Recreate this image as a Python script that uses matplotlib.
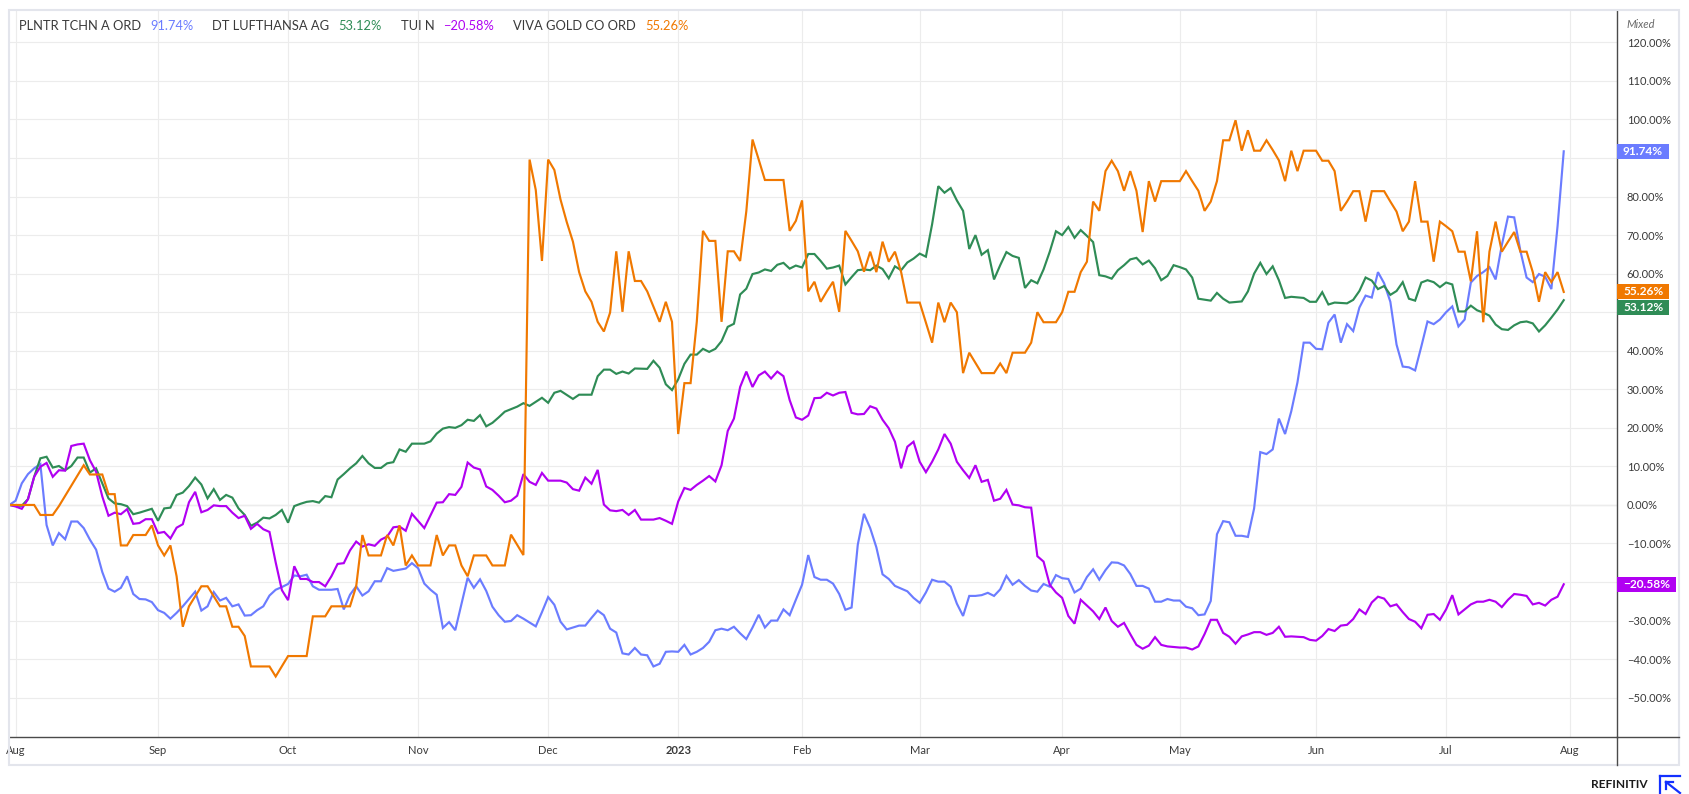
import numpy as np
import pandas as pd
import matplotlib
matplotlib.use("Agg")
import matplotlib.pyplot as plt
from matplotlib.lines import Line2D
from matplotlib.patches import Rectangle
from matplotlib.transforms import blended_transform_factory

plt.rcParams['font.family'] = ['Lato', 'DejaVu Sans']

# ------------------------------------------------------------
# Data : % change since 29 Jul 2022, by trading session
# (session 0 = 1 Aug 2022, -1 = previous close)
# ------------------------------------------------------------
names = ["PLNTR TCHN A ORD", "DT LUFTHANSA AG", "TUI N", "VIVA GOLD CO ORD"]
colors = ["#6b7cff", "#2f8c56", "#b100f2", "#f07800"]

pltr = [(-1, 0), (0, 1.1), (1, 5.6), (2, 8.0), (3, 9.5), (4, 10.6), (5, -5.2), (6, -10.5), (7, -7.3),
        (8, -8.9), (9, -4.3), (10, -4.3), (11, -6.0), (12, -9.0), (13, -11.6), (14, -17.4), (15, -21.7),
        (16, -22.5), (17, -21.5), (18, -18.5), (19, -23.1), (20, -24.4), (21, -24.5), (22, -25.2),
        (23, -27.3), (24, -28.0), (25, -29.5), (26, -28.0), (27, -26.3), (29, -22.5), (30, -27.4),
        (31, -26.3), (32, -22.6), (33, -24.8), (34, -24.1), (35, -26.3), (36, -25.8), (37, -28.7),
        (38, -28.6), (39, -27.3), (40, -26.3), (41, -23.5), (42, -22.0), (43, -21.3), (44, -20.5),
        (45, -18.3), (46, -18.5), (47, -18.1), (48, -21.1), (49, -22.0), (51, -22.0), (52, -21.8),
        (53, -27.1), (54, -23.3), (55, -21.1), (56, -23.5), (57, -22.4), (58, -19.8), (59, -19.8),
        (60, -16.4), (61, -17.1), (63, -16.5), (64, -15.1), (65, -16.4), (66, -20.4), (67, -22.0),
        (68, -23.3), (69, -31.9), (70, -30.4), (71, -32.5), (73, -18.9), (74, -21.5), (75, -19.3),
        (76, -22.3), (77, -26.4), (78, -28.6), (79, -30.3), (80, -30.1), (81, -28.6), (82, -29.5),
        (83, -30.5), (84, -31.5), (85, -27.8), (86, -23.9), (87, -25.9), (88, -30.3), (89, -32.3),
        (90, -31.8), (91, -31.3), (92, -31.3), (93, -29.3), (94, -27.4), (95, -28.6), (96, -32.1),
        (97, -33.1), (98, -38.5), (99, -38.8), (100, -37.1), (101, -38.8), (102, -39.0), (103, -41.9),
        (104, -41.2), (105, -38.1), (106, -38.0), (107, -38.1), (108, -36.3), (109, -38.8), (110, -38.1),
        (111, -37.1), (112, -35.5), (113, -32.5), (114, -32.1), (115, -32.5), (116, -31.6), (117, -33.3),
        (118, -34.8), (119, -31.8), (120, -28.5), (121, -31.8), (122, -30.0), (123, -30.0), (124, -27.1),
        (125, -28.6), (126, -24.6), (127, -20.7), (128, -13.0), (129, -18.7), (130, -19.4), (131, -19.4),
        (132, -20.4), (133, -23.1), (134, -27.2), (135, -26.6), (136, -10.3), (137, -2.3), (138, -6.0),
        (139, -11.0), (140, -18.0), (141, -19.2), (142, -21.0), (143, -21.7), (144, -22.4), (145, -24.1),
        (146, -25.4), (147, -22.7), (148, -19.4), (149, -19.9), (150, -19.9), (151, -21.2), (152, -25.6),
        (153, -28.8), (154, -23.6), (155, -23.6), (156, -23.4), (157, -22.8), (158, -23.6), (159, -21.9),
        (160, -18.4), (161, -20.7), (162, -19.5), (163, -21.0), (164, -22.2), (165, -22.5), (166, -20.5),
        (167, -21.2), (168, -18.2), (169, -19.0), (170, -19.2), (171, -22.7), (172, -21.7), (173, -18.7),
        (174, -16.7), (175, -19.4), (176, -16.9), (177, -14.9), (178, -15.0), (179, -15.7), (180, -17.9),
        (181, -21.0), (182, -21.0), (183, -21.7), (184, -25.1), (185, -25.1), (186, -24.4), (187, -24.8),
        (188, -24.8), (189, -26.4), (190, -26.8), (191, -28.6), (192, -28.4), (193, -24.9), (194, -7.6),
        (195, -4.2), (196, -4.5), (197, -8.0), (198, -8.0), (199, -8.3), (200, -0.9), (201, 13.7),
        (202, 13.2), (203, 14.4), (204, 22.4), (205, 18.4), (206, 24.3), (207, 31.8), (208, 42.1),
        (209, 42.1), (210, 40.5), (211, 40.4), (212, 47.3), (213, 49.4), (214, 42.1), (215, 46.9),
        (216, 45.1), (217, 51.2), (218, 54.3), (219, 53.8), (220, 60.4), (221, 57.5), (222, 52.7),
        (223, 41.6), (224, 35.9), (225, 35.7), (226, 34.9), (227, 41.1), (228, 47.6), (229, 46.9),
        (230, 48.1), (231, 50.0), (232, 51.5), (233, 46.3), (234, 48.1), (235, 57.7), (236, 59.4),
        (237, 60.4), (238, 61.7), (239, 58.5), (240, 67.4), (241, 74.8), (242, 74.6), (243, 65.9),
        (244, 59.0), (245, 57.8), (246, 59.9), (247, 59.2), (248, 56.0), (249, 72.3), (250, 91.74)]

lufthansa = [(-1, 0), (0, -0.2), (1, -0.2), (2, 1.5), (3, 7.3), (4, 12.1), (5, 12.5), (6, 9.7), (7, 10.1),
             (8, 9.0), (9, 10.1), (10, 12.3), (11, 12.3), (12, 8.4), (13, 9.5), (14, 5.6), (15, 1.7),
             (16, 0.4), (17, 0.2), (18, -0.3), (19, -2.4), (20, -2.0), (21, -1.5), (22, -1.0), (23, -4.1),
             (24, -0.9), (25, -0.7), (26, 2.6), (27, 3.2), (28, 4.9), (29, 7.1), (30, 5.3), (31, 1.7),
             (32, 4.1), (33, 1.3), (34, 2.6), (35, 1.9), (36, -0.9), (37, -2.6), (38, -5.4), (39, -4.6),
             (40, -3.3), (41, -3.5), (42, -2.6), (43, -1.3), (44, -4.6), (45, -0.3), (46, 0.3), (47, 0.8),
             (48, 1.0), (49, 0.6), (50, 2.3), (51, 2.0), (52, 6.6), (53, 8.0), (54, 9.5), (55, 10.8),
             (56, 12.7), (57, 10.8), (58, 9.6), (59, 9.6), (60, 10.8), (61, 11.1), (62, 14.4), (63, 13.8),
             (64, 15.9), (66, 15.9), (67, 16.5), (68, 18.5), (69, 19.8), (70, 20.2), (71, 20.0), (72, 20.7),
             (73, 22.1), (74, 21.8), (75, 23.3), (76, 20.4), (77, 21.3), (78, 22.7), (79, 24.2), (81, 25.5),
             (82, 26.4), (83, 25.7), (85, 27.8), (86, 26.5), (87, 29.1), (88, 29.6), (90, 27.5), (91, 28.6),
             (93, 28.6), (94, 33.4), (95, 35.1), (96, 35.1), (97, 34.0), (98, 34.6), (99, 34.1), (100, 35.4),
             (102, 35.3), (103, 37.4), (104, 35.6), (105, 31.3), (106, 29.8), (107, 32.6), (108, 36.6),
             (109, 39.0), (110, 39.0), (111, 40.5), (112, 39.7), (113, 40.5), (114, 42.5), (115, 46.2),
             (116, 47.0), (117, 54.6), (118, 56.1), (119, 59.9), (120, 60.3), (121, 61.1), (122, 60.7),
             (123, 62.3), (124, 62.8), (125, 61.3), (126, 62.1), (127, 61.6), (128, 65.1), (129, 65.1),
             (130, 63.3), (131, 61.3), (132, 61.6), (133, 62.1), (134, 57.2), (135, 59.1), (136, 60.9),
             (137, 61.1), (138, 60.9), (139, 62.1), (140, 61.2), (141, 58.8), (142, 61.9), (143, 60.9),
             (144, 62.9), (145, 63.9), (146, 65.2), (147, 64.4), (148, 72.8), (149, 82.7), (150, 81.0),
             (151, 82.2), (152, 79.0), (153, 76.3), (154, 66.4), (155, 70.0), (156, 64.9), (157, 66.1),
             (158, 58.5), (159, 62.2), (160, 65.6), (161, 64.6), (162, 64.1), (163, 56.3), (164, 58.3),
             (165, 57.5), (166, 61.1), (167, 65.7), (168, 71.0), (169, 70.0), (170, 72.1), (171, 69.3),
             (172, 71.3), (173, 69.8), (174, 68.2), (175, 59.6), (176, 59.3), (177, 58.7), (178, 60.9),
             (179, 62.2), (180, 63.7), (181, 64.1), (182, 62.4), (183, 63.4), (184, 61.4), (185, 58.3),
             (186, 59.4), (187, 62.2), (188, 61.7), (189, 61.1), (190, 59.0), (191, 53.5), (193, 53.0),
             (194, 55.0), (195, 53.5), (196, 52.5), (198, 52.8), (199, 55.4), (200, 60.0), (201, 62.8),
             (202, 59.9), (203, 61.9), (204, 58.3), (205, 53.7), (206, 54.0), (208, 53.7), (209, 52.7),
             (210, 52.7), (211, 55.2), (212, 52.0), (213, 52.5), (215, 52.3), (216, 53.2), (217, 55.5),
             (218, 59.0), (219, 58.2), (220, 56.0), (221, 56.8), (222, 54.5), (223, 55.5), (224, 57.8),
             (225, 53.5), (226, 53.0), (227, 57.7), (228, 58.3), (229, 57.8), (230, 56.5), (231, 57.7),
             (232, 57.2), (233, 50.2), (234, 50.2), (235, 51.7), (236, 50.5), (237, 49.9), (238, 49.1),
             (239, 46.8), (240, 45.6), (241, 45.4), (242, 46.6), (243, 47.4), (244, 47.6), (245, 47.1),
             (246, 45.0), (247, 46.6), (248, 48.6), (249, 50.7), (250, 53.12)]

tui = [(-1, 0), (0, -0.4), (1, -1.0), (2, 1.5), (3, 7.3), (4, 9.9), (5, 10.9), (6, 7.3), (7, 9.0),
       (8, 8.9), (9, 15.3), (10, 15.7), (11, 15.9), (12, 11.6), (13, 8.6), (14, 2.2), (15, -2.8),
       (16, -2.0), (17, -2.4), (18, -1.1), (19, -4.9), (20, -4.7), (21, -3.7), (22, -3.7), (23, -7.3),
       (24, -7.0), (25, -8.7), (26, -5.9), (27, -5.0), (28, 0.7), (29, 3.4), (30, -1.9), (31, -1.3),
       (32, -0.1), (33, -0.3), (34, -0.3), (35, -2.0), (36, -3.4), (37, -2.8), (38, -6.2), (39, -4.9),
       (40, -6.3), (41, -7.0), (42, -14.9), (43, -22.1), (44, -24.7), (45, -15.9), (46, -19.2),
       (47, -19.2), (48, -20.0), (49, -20.0), (50, -21.1), (51, -18.5), (52, -15.3), (53, -15.1),
       (54, -11.8), (55, -9.5), (56, -10.8), (57, -10.2), (58, -10.6), (59, -9.0), (60, -8.2),
       (61, -5.8), (62, -5.6), (63, -6.7), (64, -2.3), (66, -6.0), (68, 0.6), (69, 0.7), (70, 2.8),
       (71, 2.6), (72, 4.7), (73, 11.0), (74, 9.7), (75, 9.2), (76, 4.8), (77, 3.9), (78, 2.4),
       (79, 0.7), (80, 1.1), (81, 2.4), (82, 8.0), (83, 6.0), (84, 5.2), (85, 8.3), (86, 6.3),
       (87, 6.3), (88, 6.3), (89, 5.8), (90, 4.1), (91, 3.7), (92, 7.1), (93, 5.5), (94, 9.1),
       (95, 0.1), (96, -1.4), (97, -1.6), (98, -1.3), (99, -2.6), (100, -1.3), (101, -3.8), (102, -3.8),
       (103, -3.8), (104, -3.4), (105, -4.1), (106, -4.9), (107, 0.9), (108, 4.4), (109, 3.9),
       (110, 5.2), (111, 6.3), (112, 7.5), (113, 6.1), (114, 10.3), (115, 19.2), (116, 22.4),
       (117, 30.6), (118, 34.6), (119, 30.6), (120, 33.6), (121, 34.6), (122, 32.8), (123, 34.6),
       (124, 33.4), (125, 27.2), (126, 22.7), (127, 22.1), (128, 23.2), (129, 27.7), (130, 27.8),
       (131, 29.1), (132, 28.4), (133, 29.1), (134, 29.3), (135, 23.9), (136, 23.5), (137, 23.6),
       (138, 25.6), (139, 25.0), (140, 22.1), (141, 19.9), (142, 16.4), (143, 9.5), (144, 15.1),
       (145, 16.4), (146, 11.2), (147, 8.5), (148, 11.2), (149, 14.4), (150, 18.4), (151, 15.9),
       (152, 11.2), (153, 9.0), (154, 7.0), (155, 10.3), (156, 6.0), (157, 6.5), (158, 1.1), (159, 1.6),
       (160, 3.9), (161, 0.1), (162, -0.1), (163, -0.6), (164, -0.7), (165, -13.3), (166, -14.7),
       (167, -20.7), (168, -22.7), (169, -24.1), (170, -28.8), (171, -30.8), (172, -24.6), (173, -26.1),
       (174, -27.6), (175, -29.6), (176, -26.6), (177, -30.1), (178, -31.6), (179, -30.6), (180, -33.5),
       (181, -36.3), (182, -37.3), (183, -36.5), (184, -34.3), (185, -36.3), (186, -36.7), (188, -37.0),
       (189, -37.0), (190, -37.5), (191, -36.7), (192, -33.5), (193, -29.8), (194, -29.8), (195, -33.2),
       (196, -34.2), (197, -36.0), (198, -34.1), (199, -33.6), (200, -33.0), (201, -33.0), (202, -33.7),
       (203, -33.2), (204, -31.6), (205, -34.2), (206, -34.1), (208, -34.3), (209, -35.0), (210, -35.2),
       (211, -34.0), (212, -32.2), (213, -32.7), (214, -31.3), (215, -31.1), (216, -29.6), (217, -27.1),
       (218, -28.3), (219, -25.3), (220, -23.8), (221, -24.3), (222, -26.3), (223, -25.8), (224, -27.8),
       (225, -29.6), (226, -30.3), (227, -32.0), (228, -28.5), (229, -28.3), (230, -29.8), (231, -27.1),
       (232, -23.4), (233, -28.4), (234, -27.1), (235, -25.8), (236, -25.1), (237, -25.1), (238, -24.6),
       (239, -25.1), (240, -26.5), (241, -24.6), (242, -23.1), (243, -23.3), (244, -23.6), (245, -25.8),
       (246, -25.4), (247, -26.1), (248, -24.6), (249, -23.8), (250, -20.58)]

viva = [(-1, 0), (0, 0), (3, 0), (4, -2.6), (6, -2.6), (7, -0.3), (11, 10.3), (12, 7.9), (14, 7.9),
        (15, 2.8), (16, 2.8), (17, -10.5), (18, -10.5), (19, -7.8), (21, -7.8), (22, -5.3), (23, -10.5),
        (24, -13.1), (25, -10.5), (26, -18.5), (27, -31.6), (28, -26.3), (29, -23.7), (30, -21.1),
        (31, -21.1), (32, -23.7), (33, -26.3), (34, -26.3), (35, -31.6), (36, -31.6), (37, -34.0),
        (38, -41.9), (41, -41.9), (42, -44.5), (44, -39.2), (47, -39.2), (48, -28.9), (50, -28.9),
        (51, -26.3), (54, -26.3), (55, -21.1), (56, -7.8), (57, -13.1), (59, -13.1), (60, -7.8),
        (61, -10.5), (62, -5.3), (63, -15.7), (64, -13.1), (65, -15.7), (67, -15.7), (68, -7.8),
        (69, -13.1), (70, -10.5), (71, -10.5), (72, -15.7), (73, -18.5), (74, -13.1), (76, -13.1),
        (77, -15.7), (79, -15.7), (80, -7.7), (82, -13.0), (83, 89.6), (84, 81.7), (85, 63.3),
        (86, 89.6), (87, 86.9), (88, 79.2), (89, 73.4), (90, 68.3), (91, 60.4), (92, 55.4), (93, 52.7),
        (94, 47.5), (95, 45.0), (96, 49.9), (97, 65.8), (98, 50.1), (99, 65.8), (100, 58.1), (101, 58.1),
        (102, 55.4), (104, 47.5), (105, 52.7), (106, 47.5), (107, 18.4), (108, 31.6), (109, 31.6),
        (110, 47.5), (111, 71.1), (112, 68.5), (113, 68.5), (114, 47.5), (115, 65.8), (116, 65.8),
        (117, 63.3), (118, 76.2), (119, 94.8), (120, 89.6), (121, 84.3), (124, 84.3), (125, 71.1),
        (126, 73.7), (127, 79.0), (128, 55.4), (129, 57.9), (130, 52.7), (131, 55.4), (132, 57.9),
        (133, 50.1), (134, 71.1), (135, 68.5), (136, 65.8), (137, 60.5), (138, 65.7), (139, 60.4),
        (140, 68.3), (141, 63.1), (142, 65.7), (143, 60.4), (144, 52.5), (146, 52.5), (148, 42.1),
        (149, 52.5), (150, 47.4), (151, 52.5), (152, 50.0), (153, 34.2), (154, 39.5), (156, 34.2),
        (158, 34.2), (159, 36.7), (160, 34.2), (161, 39.5), (163, 39.5), (164, 42.1), (165, 50.0),
        (166, 47.4), (168, 47.4), (169, 50.0), (170, 55.3), (171, 55.3), (172, 60.4), (173, 63.1),
        (174, 78.7), (175, 76.3), (176, 86.6), (177, 89.3), (178, 86.6), (179, 81.5), (180, 86.6),
        (181, 81.5), (182, 70.8), (183, 84.0), (184, 78.7), (185, 84.0), (188, 84.0), (189, 86.6),
        (190, 84.0), (191, 81.5), (192, 76.3), (193, 78.7), (194, 84.0), (195, 94.6), (196, 94.6),
        (197, 99.8), (198, 91.9), (199, 97.2), (200, 91.9), (201, 91.9), (202, 94.6), (203, 92.1),
        (204, 89.4), (205, 84.0), (206, 91.9), (207, 86.6), (208, 91.9), (210, 91.9), (211, 89.3),
        (212, 89.3), (213, 86.6), (214, 76.3), (215, 78.7), (216, 81.4), (217, 81.4), (218, 73.5),
        (219, 81.4), (221, 81.4), (222, 78.7), (223, 76.1), (224, 71.0), (225, 73.5), (226, 84.0),
        (227, 73.5), (228, 73.5), (229, 63.1), (230, 73.5), (231, 72.3), (232, 71.0), (233, 65.7),
        (234, 65.7), (235, 58.0), (236, 71.0), (237, 47.4), (238, 65.7), (239, 73.5), (240, 65.7),
        (241, 68.3), (242, 70.8), (243, 65.7), (244, 65.7), (245, 60.4), (246, 52.7), (247, 60.4),
        (248, 57.8), (249, 60.4), (250, 55.26)]

series = [pltr, lufthansa, tui, viva]

# NYSE sessions Aug 2022 - Jul 2023 (x axis counts sessions, like the original)
holidays = ["2022-09-05", "2022-11-24", "2022-12-26", "2023-01-02", "2023-01-16",
            "2023-02-20", "2023-04-07", "2023-05-29", "2023-06-19", "2023-07-04"]
sessions = pd.bdate_range("2022-08-01", "2023-07-31").drop(pd.to_datetime(holidays))
month_pos, month_lab = [], []
for i, d in enumerate(sessions):
    if i == 0 or d.month != sessions[i - 1].month:
        month_pos.append(i)
        month_lab.append(str(d.year) if d.month == 1 else d.strftime("%b"))
month_pos.append(len(sessions))
month_lab.append("Aug")

y_ticks = list(range(-50, 121, 10))

# ------------------------------------------------------------
# Figure / axes (pixel layout of the original screenshot)
# ------------------------------------------------------------
W, H = 1690, 794
fig = plt.figure(figsize=(W / 100, H / 100), dpi=100)
fig.patch.set_facecolor("white")

L, R, T, B = 9.4, 1617, 10, 737
ax = fig.add_axes([L / W, 1 - B / H, (R - L) / W, (B - T) / H])
ax.set_xlim(-1, 258.6)
ax.set_ylim(-60.2, 128.4)

for s, c in zip(series, colors):
    d, v = zip(*s)
    ax.plot(d, v, color=c, lw=1.55, solid_joinstyle="miter", zorder=3)

ax.set_xticks(month_pos)
ax.set_xticklabels(month_lab)
ax.set_yticks(y_ticks)
ax.set_yticklabels([f"{t:.2f}%".replace("-", "\u2212") for t in y_ticks])
ax.yaxis.tick_right()
ax.grid(True, color="#ececec", lw=0.8, zorder=0)
ax.axhline(0, color="#a3a3a3", lw=0.8, zorder=1)
ax.tick_params(axis="both", length=0, labelsize=8, labelcolor="#3a3a3a")
ax.tick_params(axis="y", pad=7)
ax.tick_params(axis="x", pad=6)
for lab in ax.get_xticklabels():
    if lab.get_text() == "2023":
        lab.set_fontweight("bold")
for side in ["top", "left"]:
    ax.spines[side].set_visible(False)
for side in ["right", "bottom"]:
    ax.spines[side].set_color("#4a4a4a")
    ax.spines[side].set_linewidth(1.0)


def fx(px):
    return px / W


def fy(py):
    return 1 - py / H


# outer frame and axis-line extensions
fig.add_artist(Rectangle((fx(9), fy(765)), fx(1679) - fx(9), fy(10) - fy(765),
                         transform=fig.transFigure, fill=False, ec="#e3e5ec", lw=1.5))
fig.add_artist(Line2D([fx(R), fx(R)], [fy(B), fy(765)], color="#4a4a4a", lw=1.0))
fig.add_artist(Line2D([fx(R), fx(1679)], [fy(B), fy(B)], color="#4a4a4a", lw=1.0))

fig.text(fx(1626), fy(24), "Mixed", fontsize=8, color="#6a6a6a", style="italic", va="center")

# legend line at the top
fig.canvas.draw()
rend = fig.canvas.get_renderer()
last_vals = [s[-1][1] for s in series]
val_txt = [f"{v:.2f}%".replace("-", "\u2212") for v in last_vals]
x = 19
for n, vt, c in zip(names, val_txt, colors):
    t = fig.text(fx(x), fy(26), n, fontsize=9.3, color="#3a3a3a", va="center")
    x = t.get_window_extent(rend).x1 + 9
    t = fig.text(fx(x), fy(26), vt, fontsize=9.3, color=c, va="center")
    x = t.get_window_extent(rend).x1 + 19

# last-value tags on the price scale
px_per_pct = (B - T) / (128.4 + 60.2)
tag_h = 16 / px_per_pct
order = np.argsort(last_vals)[::-1]
tag_y = {}
prev = None
for k in order:
    y = last_vals[k] if prev is None else min(last_vals[k], prev - tag_h)
    tag_y[k] = y
    prev = y

# scale labels hidden behind a tag are not drawn
for tick, lab in zip(y_ticks, ax.get_yticklabels()):
    if any(abs(tick - ty) < 0.62 * tag_h for ty in tag_y.values()):
        lab.set_visible(False)

trans = blended_transform_factory(ax.transAxes, ax.transData)
ax_w = R - L
for k in range(len(series)):
    t = ax.text(1.0, tag_y[k], val_txt[k], transform=trans, fontsize=8.6, fontweight="bold",
                color="white", ha="center", va="center", clip_on=False, zorder=11)
    tw = t.get_window_extent(rend).width
    bw = tw + 12
    t.set_x(1.0 + (bw / 2) / ax_w)
    ax.add_patch(Rectangle((1.0, tag_y[k] - tag_h * 0.47), bw / ax_w, tag_h * 0.94,
                           transform=trans, fc=colors[k], ec="none", clip_on=False, zorder=10))

# REFINITIV mark
fig.text(fx(1648), fy(784), "REFINITIV", fontsize=8.6, fontweight="bold", color="#1b1b1b",
         ha="right", va="center")
logo = "#1330ff"
for xs, ys in [([1660, 1680], [776, 776]), ([1660, 1660], [776, 794]),
               ([1666, 1680], [782, 793]), ([1666, 1673], [782, 782]), ([1666, 1666], [782, 789])]:
    fig.add_artist(Line2D([fx(v) for v in xs], [fy(v) for v in ys], color=logo, lw=1.6))

fig.savefig("out.png", dpi=100, facecolor="white")
